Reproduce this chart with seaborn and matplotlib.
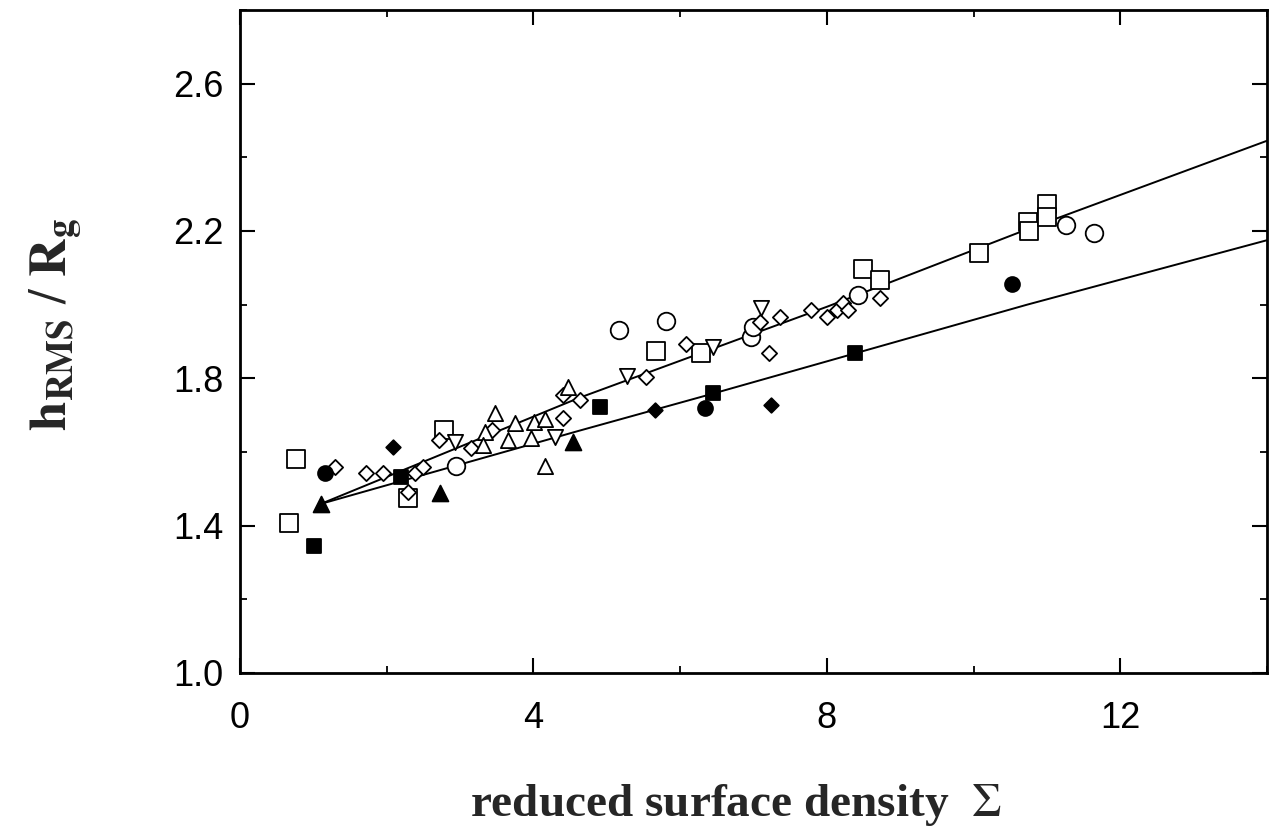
import numpy as np
import matplotlib
matplotlib.use("Agg")
import matplotlib.pyplot as plt
import seaborn as sns
from matplotlib.ticker import MultipleLocator

# --- data (sigma, h_rms/R_g) ---
open_sq_x = [0.67, 0.76, 2.29, 2.78, 5.67, 6.28, 8.49, 8.72, 10.07, 10.74, 10.76, 11.00, 11.00]
open_sq_y = [1.407, 1.581, 1.475, 1.660, 1.874, 1.869, 2.097, 2.067, 2.140, 2.225, 2.200, 2.273, 2.238]

open_circ_x = [2.94, 5.17, 5.81, 6.97, 6.99, 8.42, 11.26, 11.64]
open_circ_y = [1.562, 1.931, 1.956, 1.912, 1.939, 2.026, 2.216, 2.195]

open_dia_x = [1.29, 1.72, 1.95, 2.39, 2.49, 2.29, 2.71, 3.15, 3.44, 4.40, 4.40, 4.63,
              5.53, 6.08, 7.09, 7.21, 7.36, 7.78, 8.00, 8.14, 8.22, 8.29, 8.72]
open_dia_y = [1.559, 1.543, 1.543, 1.543, 1.559, 1.491, 1.633, 1.611, 1.660, 1.692, 1.755, 1.741,
              1.804, 1.893, 1.953, 1.869, 1.967, 1.986, 1.967, 1.986, 2.005, 1.986, 2.018]

open_tri_x = [3.34, 3.48, 3.31, 3.75, 3.65, 4.01, 4.16, 3.97, 4.16, 4.47]
open_tri_y = [1.654, 1.706, 1.619, 1.679, 1.633, 1.682, 1.690, 1.638, 1.562, 1.777]

open_tri_dn_x = [2.93, 4.29, 5.28, 6.45, 7.10]
open_tri_dn_y = [1.627, 1.641, 1.806, 1.885, 1.991]

fill_sq_x = [1.01, 2.19, 4.91, 6.45, 8.38]
fill_sq_y = [1.345, 1.532, 1.722, 1.760, 1.869]

fill_circ_x = [1.16, 6.34, 10.52]
fill_circ_y = [1.543, 1.720, 2.056]

fill_dia_x = [2.09, 5.66, 7.24]
fill_dia_y = [1.614, 1.714, 1.728]

fill_tri_x = [1.10, 2.73, 4.54]
fill_tri_y = [1.459, 1.489, 1.627]

# fitted curves
upper_x = [1.10, 4.61, 8.01, 10.71, 14.0]
upper_y = [1.459, 1.746, 1.995, 2.203, 2.445]
lower_x = [1.10, 4.61, 6.42, 10.73, 14.0]
lower_y = [1.459, 1.657, 1.757, 2.000, 2.175]

sns.set_theme(style="ticks")
plt.rcParams['font.family'] = ['Liberation Sans', 'DejaVu Sans']
plt.rcParams['mathtext.fontset'] = 'stix'

fig = plt.figure(figsize=(12.73, 8.33), dpi=100)
ax = fig.add_axes([240 / 1273, 1 - 673 / 833, 1027 / 1273, 663 / 833])

# lines first, markers on top
sns.lineplot(x=upper_x, y=upper_y, ax=ax, color='black', lw=1.4, sort=False, estimator=None, zorder=1)
sns.lineplot(x=lower_x, y=lower_y, ax=ax, color='black', lw=1.4, sort=False, estimator=None, zorder=1)

groups = [
    (open_sq_x, open_sq_y, 's', 150, 'white'),
    (open_circ_x, open_circ_y, 'o', 160, 'white'),
    (open_dia_x, open_dia_y, 'D', 60, 'white'),
    (open_tri_x, open_tri_y, '^', 120, 'white'),
    (open_tri_dn_x, open_tri_dn_y, 'v', 120, 'white'),
    (fill_sq_x, fill_sq_y, 's', 115, 'black'),
    (fill_circ_x, fill_circ_y, 'o', 115, 'black'),
    (fill_dia_x, fill_dia_y, 'D', 55, 'black'),
    (fill_tri_x, fill_tri_y, '^', 130, 'black'),
]
for gx, gy, mk, size, fc in groups:
    sns.scatterplot(x=gx, y=gy, ax=ax, marker=mk, s=size, facecolor=fc,
                    edgecolor='black', linewidth=1.3, zorder=3)

ax.set_xlim(0, 14)
ax.set_ylim(1.0, 2.8)
ax.xaxis.set_major_locator(MultipleLocator(4))
ax.xaxis.set_minor_locator(MultipleLocator(2))
ax.yaxis.set_minor_locator(MultipleLocator(0.2))
ax.set_yticks([1.0, 1.4, 1.8, 2.2, 2.6])
ax.set_yticklabels(['1.0', '1.4', '1.8', '2.2', '2.6'])

ax.tick_params(which='both', direction='in', top=True, right=True, colors='black')
ax.tick_params(which='major', length=11, width=1.5, labelsize=26)
ax.tick_params(which='minor', length=5, width=1.3)
ax.tick_params(axis='x', which='major', pad=20)
ax.tick_params(axis='y', which='major', pad=12)
for sp in ax.spines.values():
    sp.set_visible(True)
    sp.set_linewidth(2.0)
    sp.set_color('black')

ax.set_xlabel(r'reduced surface density  $\Sigma$', fontsize=34, fontweight='bold',
              family='Liberation Serif', labelpad=30)
ax.xaxis.set_label_coords(0.483, -0.165)
ax.set_ylabel(r'$\mathbf{h}_{\mathbf{RMS}}\ /\ \mathbf{R}_{\mathbf{g}}$', fontsize=38)
ax.yaxis.set_label_coords(-0.152, 0.526)

fig.savefig('out.png', dpi=100, facecolor='white')
